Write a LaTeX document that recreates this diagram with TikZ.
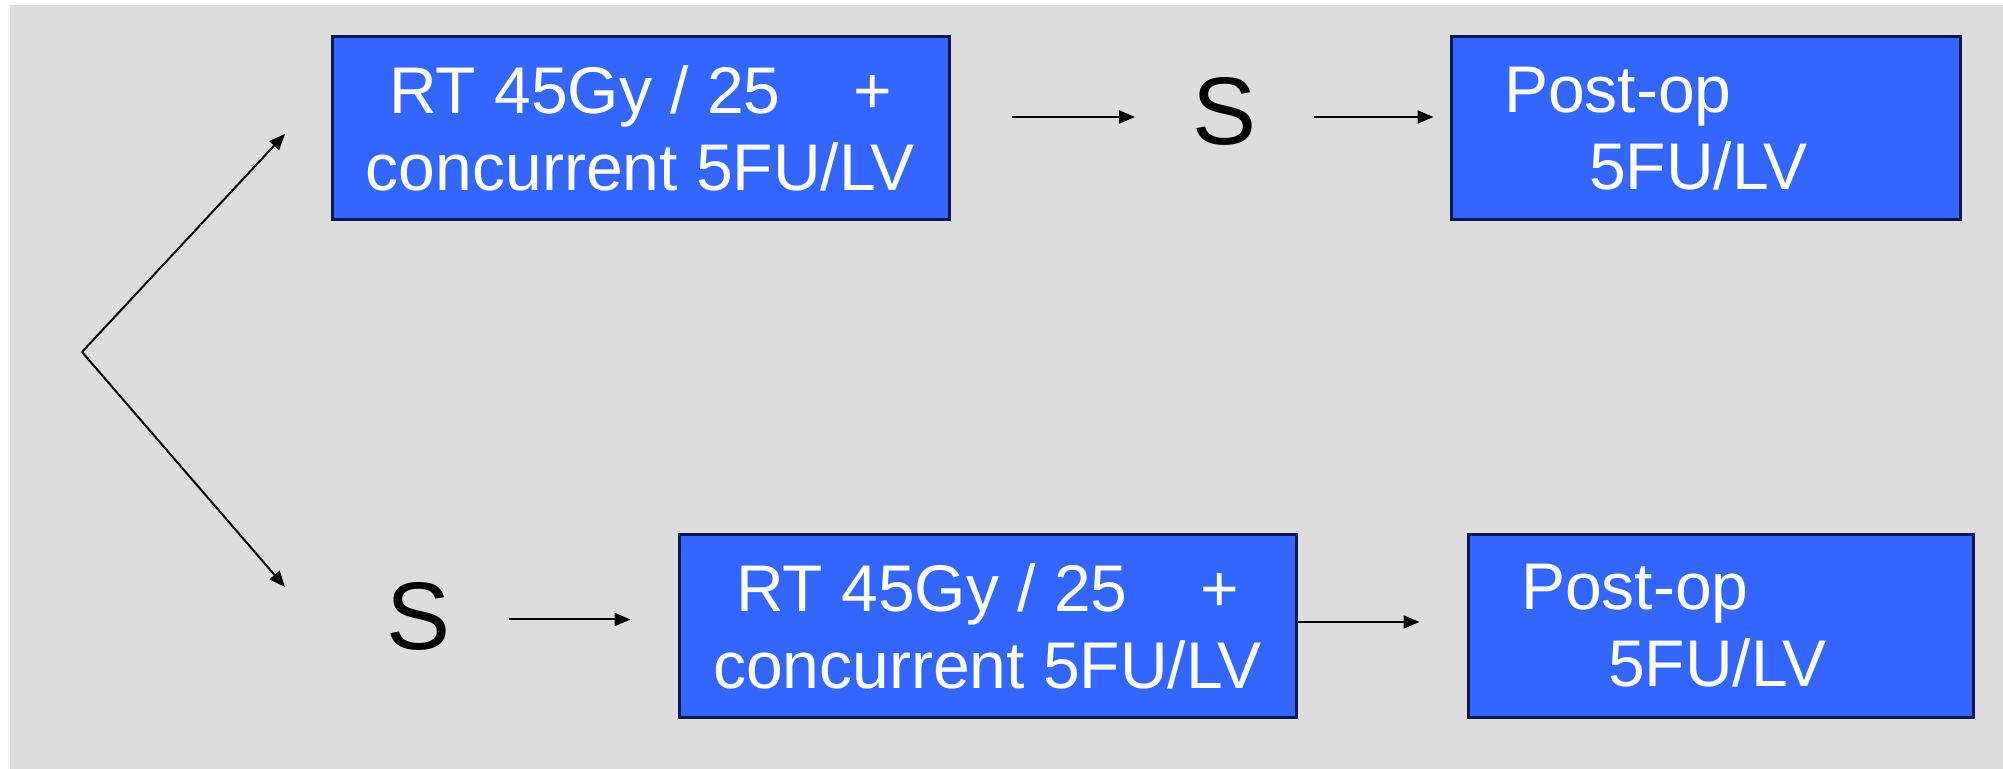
\documentclass[tikz,border=0pt]{standalone}
\usepackage{fontspec}
\setmainfont{Liberation Sans}
\usetikzlibrary{arrows.meta}
\definecolor{slidegray}{RGB}{221,221,221}
\definecolor{boxblue}{RGB}{51,102,255}
\definecolor{boxedge}{RGB}{16,24,80}
\begin{document}
\begin{tikzpicture}[x=0.5pt,y=-0.5pt,
  txt/.style={font=\fontsize{33pt}{38.5pt}\selectfont, text=white},
  bluebox/.style={draw=boxedge, line width=1.5pt, fill=boxblue, txt, minimum height=91.5pt},
  rtbox/.style={bluebox, align=center, inner sep=0pt, minimum width=308.5pt},
  postbox/.style={bluebox, align=left, inner ysep=0pt, inner xsep=26.5pt},
  stage/.style={font=\fontsize{48pt}{48pt}\selectfont, inner sep=0pt},
  arr/.style={-{Triangle[length=8pt,width=6.5pt]}, line width=1pt}]
  % page and slide background
  \useasboundingbox (0,0) rectangle (2003,769);
  \fill[white] (0,0) rectangle (2003,769);
  \fill[slidegray] (10,5) rectangle (2003,769);

  % upper arm: chemoradiation, surgery, adjuvant chemotherapy
  \node[rtbox] (rt1) at (640.5,128.5) {RT 45Gy / 25\hspace{1.1em}+\\concurrent 5FU/LV};
  \node[stage] (s1) at (1224.5,111) {S};
  \node[postbox, text width=201.5pt] (po1) at (1705.5,128.5) {Post-op\\\hspace*{42.5pt}5FU/LV};

  % lower arm: surgery, chemoradiation, adjuvant chemotherapy
  \node[stage] (s2) at (419,616.5) {S};
  \node[rtbox] (rt2) at (987.5,626) {RT 45Gy / 25\hspace{1.1em}+\\concurrent 5FU/LV};
  \node[postbox, text width=199.5pt] (po2) at (1720.5,626) {Post-op\\\hspace*{43.5pt}5FU/LV};

  % branching point
  \coordinate (split) at (82,352);
  \coordinate (up) at (285,134);
  \coordinate (down) at (285,587);
  \draw[arr] (split) -- (up);
  \draw[arr] (split) -- (down);

  % flow arrows
  \draw[arr, shorten <=30.5pt, shorten >=28.5pt] ([yshift=-3pt]rt1.east |- s1.west) -- ([yshift=-3pt]s1.west);
  \draw[arr, shorten <=28.5pt, shorten >=8pt] ([yshift=-3pt]s1.east) -- ([yshift=-3pt]po1.west |- s1.east);
  \draw[arr, shorten <=29pt, shorten >=23.5pt] ([yshift=-1.5pt]s2.east) -- ([yshift=-1.5pt]rt2.west |- s2.east);
  \draw[arr, shorten >=23.5pt] ([yshift=2pt]rt2.east) -- ([yshift=2pt]po2.west);
\end{tikzpicture}
\end{document}
